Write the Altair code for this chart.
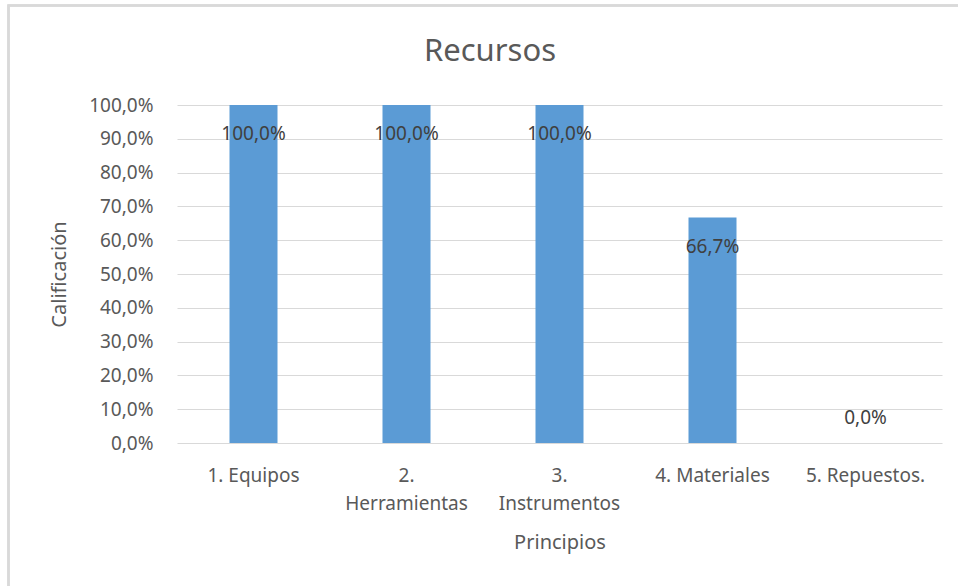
import altair as alt
import pandas as pd

chart_title = ["Recursos"]
categories = ["1. Equipos", "2. Herramientas", "3. Instrumentos", "4. Materiales", "5. Repuestos."]
values = [1.0, 1.0, 1.0, 0.667, 0.0]

df = pd.DataFrame({"Principio": categories, "Calificacion": values})
df_title = pd.DataFrame({"t": chart_title})

FONT = "Noto Sans"
TXT = "#595959"

base = alt.Chart(df).encode(
    x=alt.X(
        "Principio:N",
        sort=categories,
        scale=alt.Scale(paddingInner=0, paddingOuter=0),
        axis=alt.Axis(
            title="Principios",
            labelAngle=0,
            labelExpr="length(datum.label) > 13 ? split(datum.label, ' ') : datum.label",
            labelLineHeight=28,
            labelPadding=23,
            labelFontSize=19,
            labelColor=TXT,
            labelFont=FONT,
            ticks=False,
            domain=False,
            grid=False,
            titleFontSize=20,
            titleFontWeight="normal",
            titleColor=TXT,
            titleFont=FONT,
            titleY=99,
            titleBaseline="middle",
        ),
    ),
    y=alt.Y(
        "Calificacion:Q",
        scale=alt.Scale(domain=[0, 1]),
        axis=alt.Axis(
            title="Calificación",
            values=[i / 10 for i in range(11)],
            labelExpr="replace(format(datum.value, '.1%'), '.', ',')",
            labelPadding=24,
            labelFontSize=19,
            labelColor=TXT,
            labelFont=FONT,
            ticks=False,
            domain=False,
            gridColor="#D9D9D9",
            gridWidth=1.2,
            titleFontSize=20,
            titleFontWeight="normal",
            titleColor=TXT,
            titleFont=FONT,
            titleX=-118,
            titleY=169,
            titleBaseline="middle",
            titleAngle=-90,
        ),
    ),
)

bars = base.mark_bar(size=48, color="#5B9BD5")

lab = base.transform_calculate(
    lbl="replace(format(datum.Calificacion, '.1%'), '.', ',')"
)
labels_in = lab.transform_filter("datum.Calificacion > 0").mark_text(
    dy=29, fontSize=19, font=FONT, color="#404040", baseline="middle"
).encode(text="lbl:N")
labels_out = lab.transform_filter("datum.Calificacion <= 0").mark_text(
    dy=-25, fontSize=19, font=FONT, color="#404040", baseline="middle"
).encode(text="lbl:N")

border = alt.Chart(df).mark_rect(fill=None, stroke="#D9D9D9", strokeWidth=2).encode(
    x=alt.value(-168.5), x2=alt.value(820), y=alt.value(-99.5), y2=alt.value(520)
)

title_mark = alt.Chart(df_title).mark_text(
    fontSize=31, font=FONT, color=TXT, baseline="middle", align="center"
).encode(x=alt.value(313), y=alt.value(-53), text="t:N")

chart = alt.layer(border, bars, labels_in, labels_out, title_mark).properties(
    width=765,
    height=338,
    padding={"left": 177, "top": 105, "right": 16, "bottom": 143},
    autosize=alt.AutoSizeParams(type="none"),
    background="white",
).configure_view(stroke=None)

chart.save("out.html", embed_options={"renderer": "svg", "actions": False})
